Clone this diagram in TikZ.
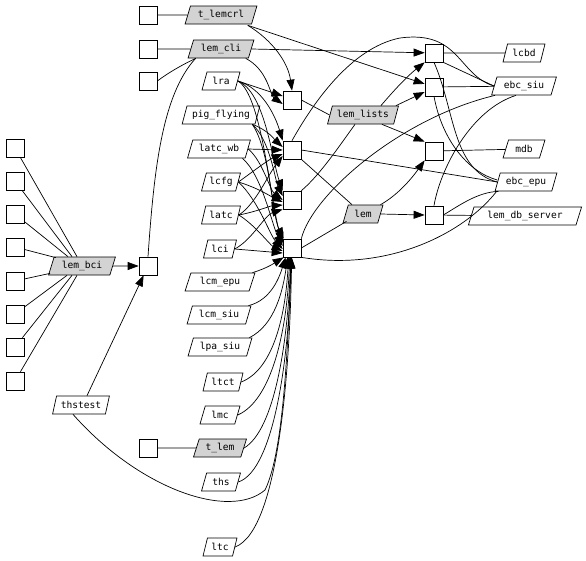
\documentclass[tikz,border=0pt]{standalone}
\usepackage{fontspec}
\newfontfamily\mono{DejaVu Sans Mono}
\usetikzlibrary{shapes.geometric,arrows.meta}
\definecolor{gfill}{RGB}{211,211,211}
\begin{document}
\begin{tikzpicture}[x=1pt,y=-1pt,line width=0.7pt,
  box/.style={draw,fill=white,minimum width=18pt,minimum height=18pt,inner sep=0pt},
  para/.style={trapezium,trapezium left angle=70,trapezium right angle=110,trapezium stretches=true,
     draw,fill=white,minimum height=18pt,inner sep=1pt,font=\mono\fontsize{9.6}{12}\selectfont},
  gpara/.style={para,fill=gfill},
  arr/.style={-{Triangle[length=11pt,width=8pt]}}]
\useasboundingbox (0,0) rectangle (586,560);
% ---------- nodes ----------
\node[box] (B1) at (148,15) {};
\node[box] (B2) at (148,49) {};
\node[box] (B3) at (148,81) {};
\node[box] (Bbci) at (148,266) {};
\node[box] (Btlem) at (148,448) {};
\foreach \i/\y in {1/148,2/181,3/214,4/247,5/281,6/314,7/347,8/381}
  \node[box] (lb\i) at (15,\y) {};
\node[box] (H1) at (292,100) {};
\node[box] (H2) at (292,150) {};
\node[box] (H3) at (292,200) {};
\node[box] (H4) at (292,248) {};
\node[box] (R1) at (434,53) {};
\node[box] (R2) at (434,87) {};
\node[box] (R3) at (434,151) {};
\node[box] (R4) at (434,215) {};

\node[gpara,minimum width=72pt] (tlemcrl) at (221,15) {t\_lemcrl};
\node[gpara,minimum width=66pt] (lemcli) at (221,49) {lem\_cli};
\node[para,minimum width=38pt] (lra) at (221,81) {lra};
\node[para,minimum width=78pt] (pig) at (221,115) {pig\_flying};
\node[para,minimum width=63pt] (latcwb) at (219,149) {latc\_wb};
\node[para,minimum width=39pt] (lcfg) at (221,182) {lcfg};
\node[para,minimum width=39pt] (latc) at (221,215) {latc};
\node[para,minimum width=33pt] (lci) at (220,249) {lci};
\node[para,minimum width=70pt] (lcmepu) at (220,282) {lcm\_epu};
\node[para,minimum width=64pt] (lcmsiu) at (219,315) {lcm\_siu};
\node[para,minimum width=64pt] (lpasiu) at (220,347) {lpa\_siu};
\node[para,minimum width=40pt] (ltct) at (223,382) {ltct};
\node[para,minimum width=40pt] (lmc) at (220,415) {lmc};
\node[gpara,minimum width=53pt] (tlem) at (220,448) {t\_lem};
\node[para,minimum width=39pt] (ths) at (221,482) {ths};
\node[para,minimum width=34pt] (ltc) at (220,547) {ltc};
\node[gpara,minimum width=67pt] (lembci) at (82,266) {lem\_bci};
\node[para,minimum width=57pt] (thstest) at (81,405) {thstest};
\node[gpara,minimum width=71pt] (lemlists) at (363,115) {lem\_lists};
\node[gpara,minimum width=40pt] (lem) at (363,214) {lem};
\node[para,minimum width=42pt] (lcbd) at (524,53) {lcbd};
\node[para,minimum width=65pt] (ebcsiu) at (524,86) {ebc\_siu};
\node[para,minimum width=42pt] (mdb) at (524,149) {mdb};
\node[para,minimum width=62pt] (ebcepu) at (526,182) {ebc\_epu};
\node[para,minimum width=114pt] (lemdb) at (525,216) {lem\_db\_server};

% ---------- connectors ----------
% top-left
\draw (B1) -- (tlemcrl);
\draw (B2) -- (lemcli);
\draw (B3.east) .. controls (168,73) and (180,66) .. ([shift={(8,0)}]lemcli.bottom left corner);
\draw (Bbci.north) .. controls (154,170) and (162,95) .. ([shift={(8,0)}]lemcli.bottom left corner);
\draw[arr] ([shift={(-4,1)}]tlemcrl.bottom right corner) -- (R2);
\draw[arr] ([shift={(-4,1)}]tlemcrl.bottom right corner) .. controls (272,40) and (288,62) .. (H1.north);
\draw[arr] (lemcli.east) -- (R1);
\draw[arr] ([shift={(-3,0)}]lemcli.bottom right corner) .. controls (268,70) and (270,95) .. ([shift={(0,4)}]H1.west);
% left column
\draw (lb1) -- ([shift={(-5,0)}]lembci.north);
\draw (lb2) -- ([shift={(-10,0)}]lembci.north);
\draw (lb3) -- ([shift={(-14,0)}]lembci.north);
\draw (lb4) -- ([shift={(2,1)}]lembci.top left corner);
\draw (lb5) -- ([shift={(2,-2)}]lembci.bottom left corner);
\draw (lb6) -- ([shift={(-15,0)}]lembci.south);
\draw (lb7) -- ([shift={(-10,0)}]lembci.south);
\draw (lb8) -- ([shift={(-5,0)}]lembci.south);
\draw[arr] (lembci) -- (Bbci);
\draw[arr] ([shift={(6,0)}]thstest.north) -- (Bbci);
\draw (Btlem) -- (tlem);
% fan into hubs
\draw[arr] (lra.east) -- ([shift={(0,-4)}]H1.west);
\draw[arr] (lra.east) .. controls (262,88) and (275,115) .. (H2.north west);
\draw[arr] (lra.east) .. controls (265,92) and (272,160) .. (H3.north west);
\draw[arr] (lra.east) .. controls (262,95) and (270,200) .. ([shift={(0,-5)}]H4.west);
\draw[arr] ([shift={(-3,0)}]pig.bottom right corner) .. controls (268,130) and (275,140) .. ([shift={(0,-3)}]H2.west);
\draw[arr] ([shift={(-3,0)}]pig.bottom right corner) .. controls (270,140) and (275,180) .. ([shift={(0,-4)}]H3.west);
\draw[arr] ([shift={(-3,0)}]pig.bottom right corner) .. controls (270,150) and (272,215) .. ([shift={(1,0)}]H4.north west);
\draw[arr] (latcwb.east) -- (H2.west);
\draw[arr] (latcwb.east) .. controls (262,160) and (270,190) .. (H3.west);
\draw[arr] ([shift={(-3,0)}]latcwb.bottom right corner) .. controls (262,175) and (272,225) .. ([shift={(0,-2)}]H4.west);
\draw[arr] (lcfg.east) .. controls (255,170) and (268,160) .. ([shift={(0,4)}]H2.west);
\draw[arr] (lcfg.east) .. controls (258,188) and (270,196) .. ([shift={(0,2)}]H3.west);
\draw[arr] (lcfg.east) .. controls (258,200) and (270,235) .. ([shift={(0,1)}]H4.west);
\draw[arr] (latc.east) .. controls (255,205) and (268,175) .. ([shift={(0,6)}]H2.west);
\draw[arr] (latc.east) .. controls (255,212) and (270,206) .. ([shift={(0,5)}]H3.west);
\draw[arr] (latc.east) .. controls (255,225) and (270,245) .. ([shift={(0,3)}]H4.west);
\draw[arr] (lci.east) .. controls (252,240) and (265,215) .. (H3.south west);
\draw[arr] (lci.east) -- ([shift={(0,5)}]H4.west);
\draw[arr] ([shift={(-3,0)}]lcmepu.top right corner) .. controls (268,268) and (276,262) .. ([shift={(1,0)}]H4.south west);
\draw[arr] ([shift={(-3,0)}]lcmsiu.top right corner) .. controls (272,300) and (280,275) .. ([shift={(3,0)}]H4.south west);
\draw[arr] ([shift={(-3,0)}]lpasiu.top right corner) .. controls (275,325) and (283,290) .. ([shift={(5,0)}]H4.south west);
\draw[arr] (ltct.east) .. controls (272,370) and (285,320) .. ([shift={(6,0)}]H4.south west);
\draw[arr] (lmc.east) .. controls (272,400) and (287,330) .. ([shift={(7,0)}]H4.south west);
\draw[arr] (tlem.east) .. controls (275,430) and (288,340) .. ([shift={(8,0)}]H4.south west);
\draw[arr] (ths.east) .. controls (275,470) and (290,350) .. ([shift={(8,0)}]H4.south west);
\draw[arr] (ltc.east) .. controls (280,530) and (290,360) .. ([shift={(9,0)}]H4.south west);
\draw[arr] ([shift={(-8,0)}]thstest.south) .. controls (140,490) and (230,520) .. (265,490) .. controls (285,450) and (288,330) .. ([shift={(9,0)}]H4.south west);
% hubs to right
\draw (H1.east) -- (lemlists.west);
\draw (H3.north east) .. controls (320,175) and (340,145) .. ([shift={(-8,0)}]lemlists.south);
\draw (H2.south east) -- ([shift={(4,0)}]lem.top left corner);
\draw (H2.east) -- (ebcepu.west);
\draw (H2.north) .. controls (312,105) and (350,48) .. (400,38) .. controls (460,30) and (458,75) .. (ebcsiu.west);
\draw (H4.north east) .. controls (312,195) and (400,118) .. ([shift={(4,0)}]ebcsiu.bottom left corner);
\draw (H4.south east) .. controls (390,272) and (465,232) .. ([shift={(2,0)}]ebcepu.bottom left corner);
\draw (H4.east) -- ([shift={(4,-2)}]lem.bottom left corner);
% lem_lists, lem
\draw[arr] ([shift={(-18,0)}]lemlists.top right corner) .. controls (390,95) and (405,78) .. (R1.south west);
\draw[arr] ([shift={(-3,0)}]lemlists.top right corner) -- ([shift={(0,5)}]R2.west);
\draw[arr] ([shift={(-12,0)}]lemlists.bottom right corner) -- (R3.north west);
\draw[arr] ([shift={(-3,0)}]lem.top right corner) .. controls (398,195) and (412,178) .. (R3.south west);
\draw[arr] (lem.east) -- (R4.west);
% right side
\draw (R1) -- (lcbd);
\draw (R1.south east) -- (ebcsiu.west);
\draw (R1.south) .. controls (455,110) and (452,170) .. (ebcepu.west);
\draw (R2) -- (ebcsiu);
\draw (R2.south) .. controls (442,140) and (468,172) .. ([shift={(0,-2)}]ebcepu.west);
\draw (R3) -- (mdb);
\draw (R4) -- (lemdb);
\draw (R4.east) .. controls (460,205) and (478,192) .. ([shift={(4,0)}]ebcepu.bottom left corner);
\draw (R4.north) .. controls (440,170) and (470,110) .. ([shift={(-8,0)}]ebcsiu.south);
\end{tikzpicture}
\end{document}
